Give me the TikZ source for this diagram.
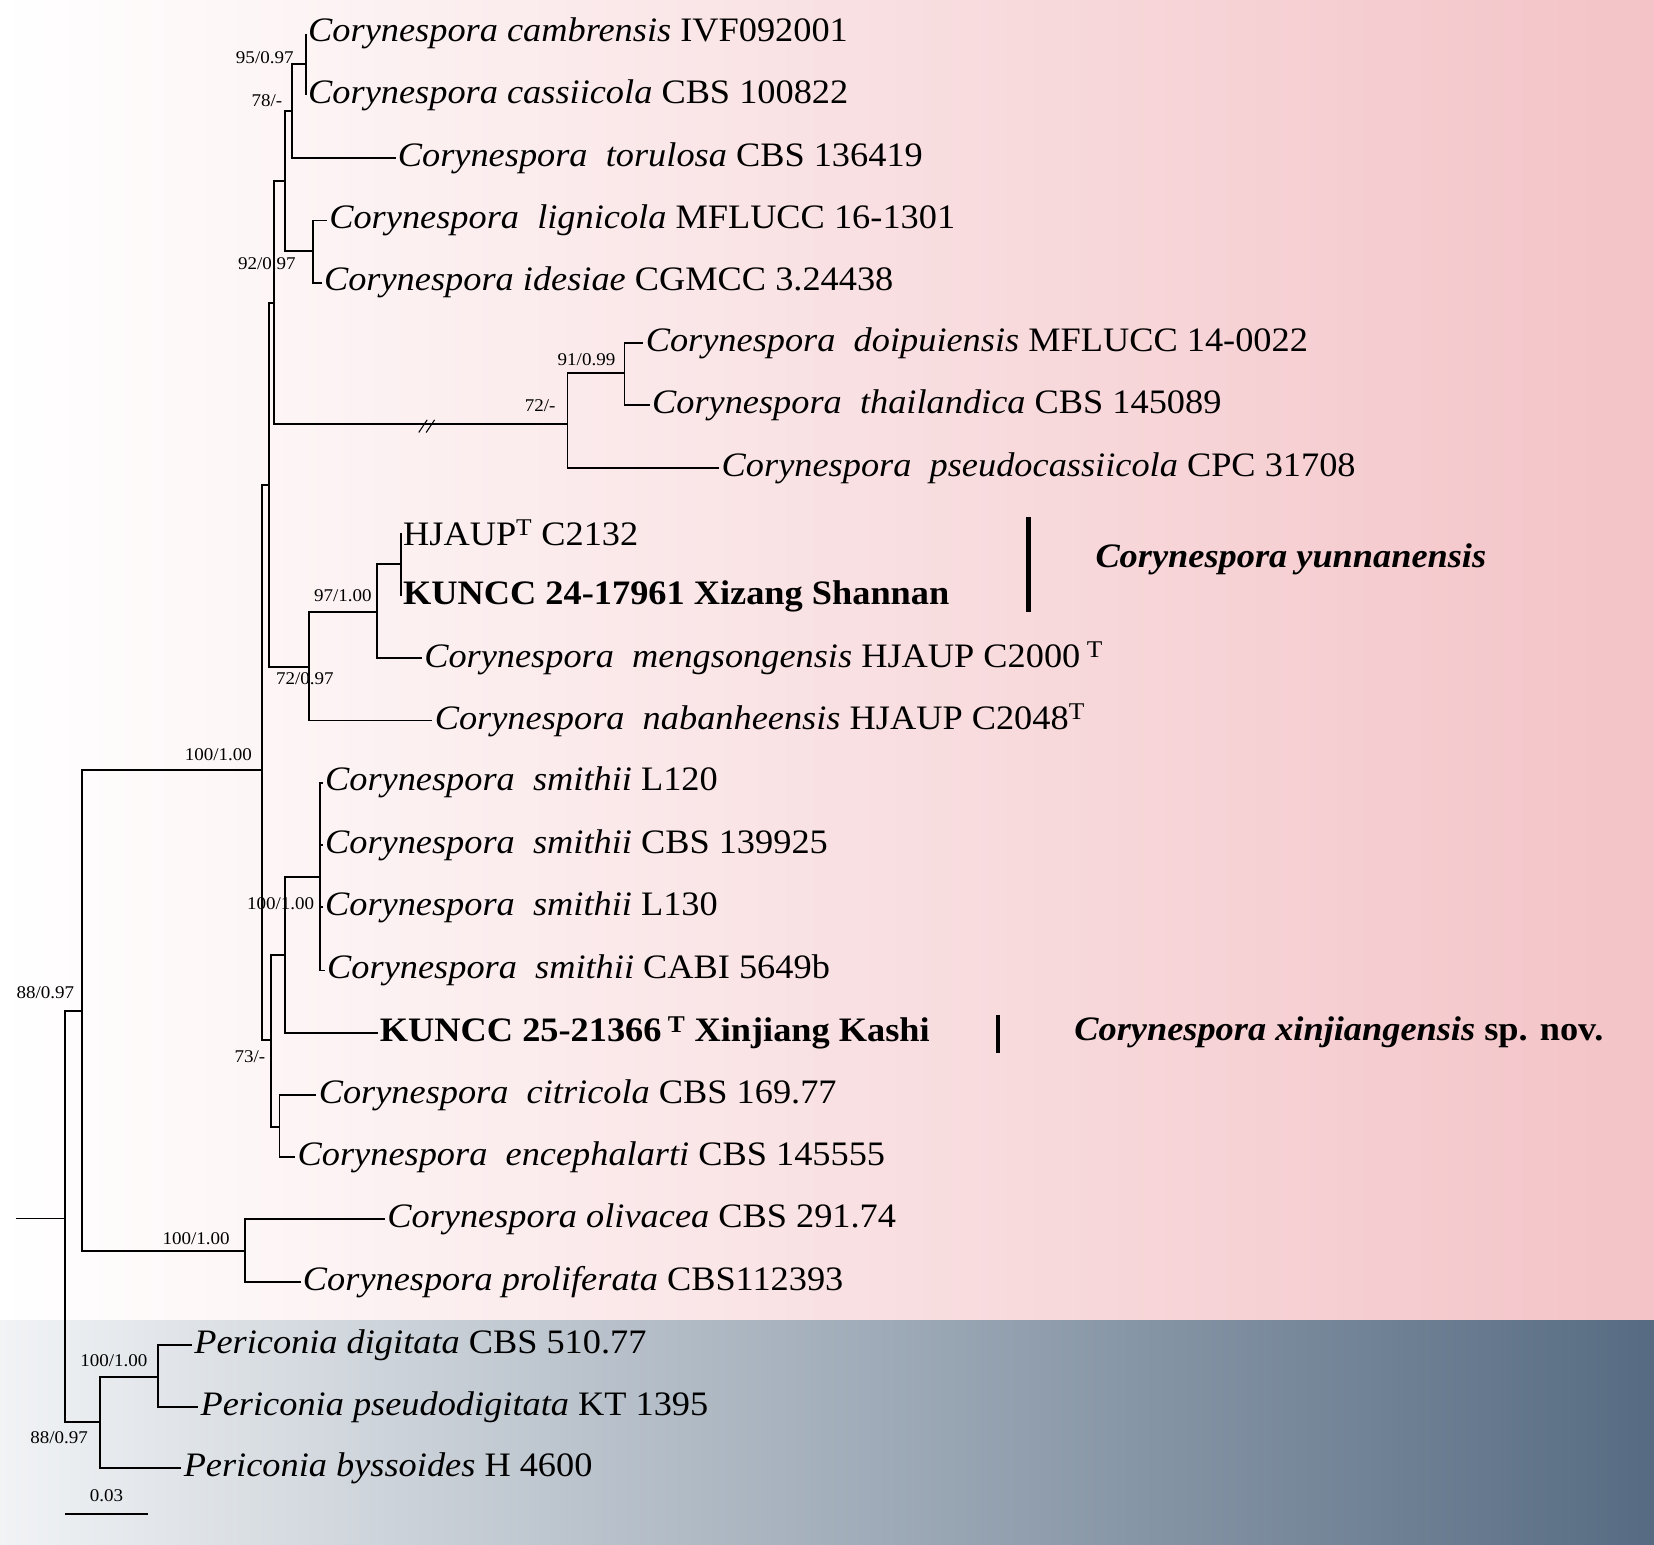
\documentclass[tikz,border=0pt]{standalone}
\usepackage{fontspec}
\setmainfont[FakeStretch=1.06]{Liberation Serif}
\definecolor{pk}{HTML}{F3C3C7}
\definecolor{sl}{HTML}{566B82}
\definecolor{sw}{HTML}{F1F3F5}
\begin{document}
\begin{tikzpicture}[x=1pt,y=-1pt,
  br/.style={line width=1.8pt},
  tip/.style={anchor=west,inner sep=2pt,font=\fontsize{32.5}{34}\selectfont},
  sup/.style={font=\fontsize{17}{18}\selectfont,inner sep=0pt},
  lab/.style={font=\fontsize{32.5}{34}\selectfont\bfseries\itshape,anchor=west}]
\useasboundingbox (0,0) rectangle (1568,1464);
\shade[left color=white,right color=pk] (0,0) rectangle (1568,1252);
\shade[left color=sw,right color=sl] (0,1252) rectangle (1568,1464);
% tips
\newcommand{\C}{\textit{Corynespora}}
\node[tip] (t1) at (290,32) {\C\ \textit{cambrensis} IVF092001};
\node[tip] (t2) at (290,90) {\C\ \textit{cassiicola} CBS 100822};
\node[tip] (t3) at (375,150) {\C\ \ \textit{torulosa} CBS 136419};
\node[tip] (t4) at (310,209) {\C\ \ \textit{lignicola} MFLUCC 16-1301};
\node[tip] (t5) at (305,268) {\C\ \textit{idesiae} CGMCC 3.24438};
\node[tip] (t6) at (610,325) {\C\ \ \textit{doipuiensis} MFLUCC 14-0022};
\node[tip] (t7) at (616,384) {\C\ \ \textit{thailandica} CBS 145089};
\node[tip] (t8) at (682,444) {\C\ \ \textit{pseudocassiicola} CPC 31708};
\node[tip] (t9) at (380,505) {HJAUP\textsuperscript{T} C2132};
\node[tip] (t10) at (380,565) {\textbf{KUNCC 24-17961 Xizang Shannan}};
\node[tip] (t11) at (400,624) {\C\ \ \textit{mengsongensis} HJAUP C2000\textsuperscript{ T}};
\node[tip] (t12) at (410,683) {\C\ \ \textit{nabanheensis} HJAUP C2048\textsuperscript{T}};
\node[tip] (t13) at (306,742) {\C\ \ \textit{smithii} L120};
\node[tip] (t14) at (306,801) {\C\ \ \textit{smithii} CBS 139925};
\node[tip] (t15) at (306,860) {\C\ \ \textit{smithii} L130};
\node[tip] (t16) at (308,920) {\C\ \ \textit{smithii} CABI 5649b};
\node[tip] (t17) at (358,979) {\textbf{KUNCC 25-21366\textsuperscript{ T} Xinjiang Kashi}};
\node[tip] (t18) at (300,1038) {\C\ \ \textit{citricola} CBS 169.77};
\node[tip] (t19) at (280,1097) {\C\ \ \textit{encephalarti} CBS 145555};
\node[tip] (t20) at (365,1156) {\C\ \textit{olivacea} CBS 291.74};
\node[tip] (t21) at (285,1215) {\C\ \textit{proliferata} CBS112393};
\node[tip] (t22) at (182,1275) {\textit{Periconia digitata} CBS 510.77};
\node[tip] (t23) at (188,1334) {\textit{Periconia pseudodigitata} KT 1395};
\node[tip] (t24) at (172,1392) {\textit{Periconia byssoides} H 4600};
% internal
\coordinate (n290) at (290,61);
\coordinate (n277) at (277,105);
\coordinate (n297) at (297,238);
\coordinate (n270) at (270,172);
\coordinate (n592) at (592,354);
\coordinate (n538) at (538,402);
\coordinate (n260) at (260,287);
\coordinate (n380) at (380,535);
\coordinate (n357) at (357,580);
\coordinate (n293) at (293,632);
\coordinate (n255) at (255,460);
\coordinate (n303) at (303,831);
\coordinate (n270b) at (270,905);
\coordinate (n265) at (265,1068);
\coordinate (n257) at (257,986);
\coordinate (n248) at (248,730);
\coordinate (n232) at (232,1186);
\coordinate (n78) at (78,958);
\coordinate (n150) at (150,1305);
\coordinate (n95) at (95,1348);
\coordinate (n62) at (62,1155);
\coordinate (root) at (15,1155);
\draw[br] (n290) |- (t1.west); \draw[br] (n290) |- (t2.west);
\draw[br] (n277) |- (n290); \draw[br] (n277) |- (t3.west);
\draw[br] (n297) |- (t4.west); \draw[br] (n297) |- (t5.west);
\draw[br] (n270) |- (n277); \draw[br] (n270) |- (n297);
\draw[br] (n592) |- (t6.west); \draw[br] (n592) |- (t7.west);
\draw[br] (n538) |- (n592); \draw[br] (n538) |- (t8.west);
\draw[br] (n260) |- (n270); \draw[br] (n260) |- (n538);
\draw[br] (n380) |- (t9.west); \draw[br] (n380) |- (t10.west);
\draw[br] (n357) |- (n380); \draw[br] (n357) |- (t11.west);
\draw[br] (n293) |- (n357); \draw[br] (n293) |- (t12.west);
\draw[br] (n255) |- (n260); \draw[br] (n255) |- (n293);
\draw[br] (n303) |- (t13.west); \draw[br] (n303) |- (t14.west);
\draw[br] (n303) |- (t15.west); \draw[br] (n303) |- (t16.west);
\draw[br] (n270b) |- (n303); \draw[br] (n270b) |- (t17.west);
\draw[br] (n265) |- (t18.west); \draw[br] (n265) |- (t19.west);
\draw[br] (n257) |- (n270b); \draw[br] (n257) |- (n265);
\draw[br] (n248) |- (n255); \draw[br] (n248) |- (n257);
\draw[br] (n232) |- (t20.west); \draw[br] (n232) |- (t21.west);
\draw[br] (n78) |- (n248); \draw[br] (n78) |- (n232);
\draw[br] (n150) |- (t22.west); \draw[br] (n150) |- (t23.west);
\draw[br] (n95) |- (n150); \draw[br] (n95) |- (t24.west);
\draw[br] (n62) |- (n78); \draw[br] (n62) |- (n95);
\draw[line width=0.8pt] (root) -- (n62);
% break
\draw[line width=1pt] (397,410) -- (405,398) (404,410) -- (412,398);
% supports
\node[sup] at (251,55) {95/0.97};
\node[sup] at (253,95) {78/-};
\node[sup] at (253,250) {92/0.97};
\node[sup] at (556,341) {91/0.99};
\node[sup] at (512,385) {72/-};
\node[sup] at (325,565) {97/1.00};
\node[sup] at (289,643) {72/0.97};
\node[sup] at (207,715) {100/1.00};
\node[sup] at (266,857) {100/1.00};
\node[sup] at (237,1002) {73/-};
\node[sup] at (43,941) {88/0.97};
\node[sup] at (186,1174) {100/1.00};
\node[sup] at (108,1290) {100/1.00};
\node[sup] at (56,1363) {88/0.97};
% scale
\coordinate (s1) at (62,1435); \coordinate (s2) at (140,1435);
\draw[line width=1.8pt] (s1) -- (s2);
\node[sup] (sl) at (101,1418) {0.03};
% clade bars
\coordinate (b1) at (975,490); \coordinate (b2) at (975,580);
\draw[line width=4pt] (b1) -- (b2);
\node[lab] (L1) at (1035,530) {Corynespora yunnanensis};
\coordinate (b3) at (946,962); \coordinate (b4) at (946,998);
\draw[line width=4pt] (b3) -- (b4);
\node[lab] (L2) at (1015,979) {Corynespora xinjiangensis \textup{sp. nov.}};
\end{tikzpicture}
\end{document}
